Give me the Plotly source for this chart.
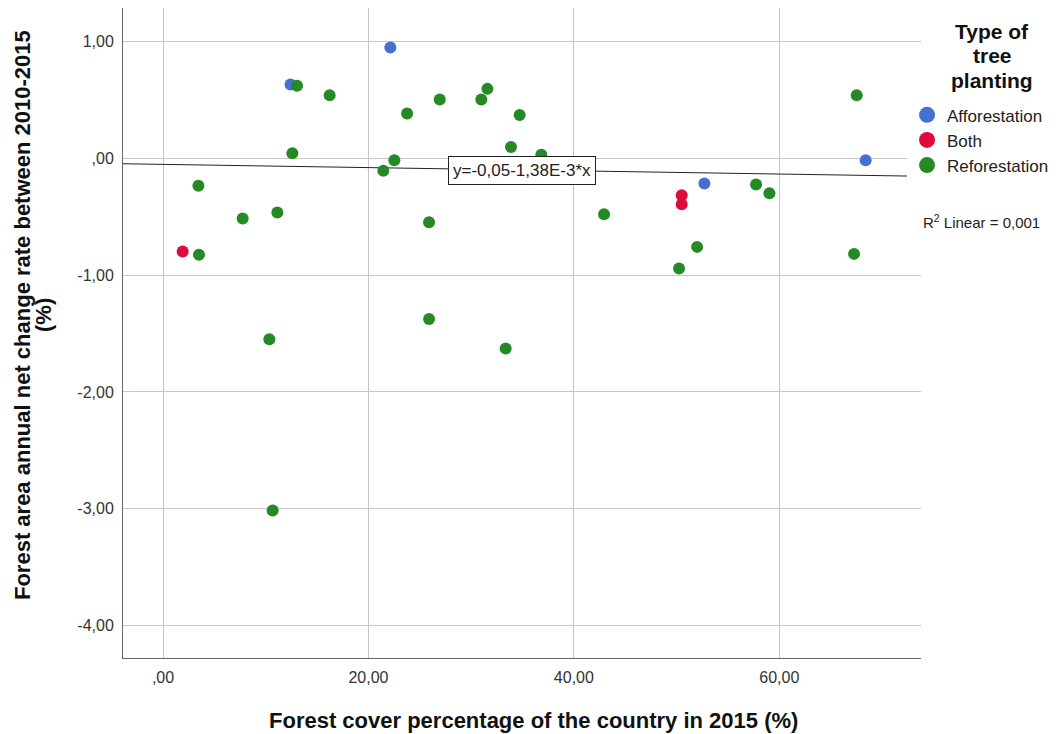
import plotly.graph_objects as go

# ---- data ----
aff_x = [22.13, 12.41, 68.41, 52.71]
aff_y = [0.951, 0.634, -0.014, -0.214]

both_x = [1.91, 50.50, 50.50]
both_y = [-0.797, -0.314, -0.391]

ref_x = [13.05, 16.22, 23.76, 26.94, 30.99, 31.58, 34.72, 33.88, 36.83, 12.59,
         22.52, 21.45, 3.44, 7.75, 11.13, 25.90, 3.50, 25.90, 10.35, 33.36,
         10.67, 67.54, 57.74, 59.04, 42.94, 52.00, 50.24, 67.28]
ref_y = [0.623, 0.543, 0.386, 0.506, 0.506, 0.597, 0.374, 0.098, 0.032, 0.046,
         -0.014, -0.105, -0.234, -0.514, -0.463, -0.545, -0.825, -1.376, -1.548, -1.628,
         -3.016, 0.543, -0.223, -0.297, -0.477, -0.757, -0.942, -0.817]

fit_intercept = -0.05
fit_slope = -1.38e-3

x_range = [-3.9, 73.8]
y_range = [-4.28, 1.29]

x_tick_vals = [0, 20, 40, 60]
x_tick_text = [",00", "20,00", "40,00", "60,00"]
y_tick_vals = [1, 0, -1, -2, -3, -4]
y_tick_text = ["1,00", ",00", "-1,00", "-2,00", "-3,00", "-4,00"]

legend_title_lines = ["Type of", "tree", "planting"]

C_AFF = "#4570d2"
C_BOTH = "#de0a3c"
C_REF = "#258a25"
FONT = "Liberation Sans, Arial, sans-serif"

fig = go.Figure()

# regression line across the axis range
fx = [x_range[0], x_range[1]]
fy = [fit_intercept + fit_slope * v for v in fx]
fig.add_trace(go.Scatter(x=fx, y=fy, mode="lines", line=dict(color="#222222", width=1),
                         showlegend=False, hoverinfo="skip"))

for name, xs, ys, c in [("Afforestation", aff_x, aff_y, C_AFF),
                        ("Both", both_x, both_y, C_BOTH),
                        ("Reforestation", ref_x, ref_y, C_REF)]:
    fig.add_trace(go.Scatter(x=xs, y=ys, mode="markers", name=name,
                             marker=dict(color=c, size=12, line=dict(width=0)),
                             showlegend=False))
    # legend proxy with larger marker
    fig.add_trace(go.Scatter(x=[None], y=[None], mode="markers", name=name,
                             marker=dict(color=c, size=18, line=dict(width=0)),
                             showlegend=True))

fig.add_annotation(x=34.99, y=-0.099, xref="x", yref="y",
                   text="y=-0,05-1,38E-3*x", showarrow=False,
                   font=dict(family=FONT, size=17, color="#222222"),
                   bgcolor="white", bordercolor="#222222", borderwidth=1, borderpad=4)

fig.add_annotation(x=1.0, y=0.671, xref="paper", yref="paper",
                   xanchor="left", yanchor="middle",
                   text="R<sup>2</sup> Linear = 0,001", showarrow=False,
                   font=dict(family=FONT, size=15, color="#222222"))

# legend title, one centered line each
for txt, yy in zip(legend_title_lines, [0.9631, 0.9262, 0.8892]):
    fig.add_annotation(x=1.089, y=yy, xref="paper", yref="paper",
                       xanchor="center", yanchor="middle",
                       text="<b>" + txt + "</b>", showarrow=False,
                       font=dict(family=FONT, size=21, color="#111111"))

# y-axis title as two rotated lines
fig.add_annotation(x=-0.1253, y=0.5277, xref="paper", yref="paper",
                   xanchor="center", yanchor="middle",
                   text="<b>Forest area annual net change rate between 2010-2015</b>",
                   textangle=-90, showarrow=False,
                   font=dict(family=FONT, size=22, color="#111111"))
fig.add_annotation(x=-0.099, y=0.5277, xref="paper", yref="paper",
                   xanchor="center", yanchor="middle",
                   text="<b>(%)</b>", textangle=-90, showarrow=False,
                   font=dict(family=FONT, size=22, color="#111111"))
# x-axis title
fig.add_annotation(x=0.514, y=-0.0954, xref="paper", yref="paper",
                   xanchor="center", yanchor="middle",
                   text="<b>Forest cover percentage of the country in 2015 (%)</b>",
                   showarrow=False, font=dict(family=FONT, size=22, color="#111111"))

fig.update_layout(
    width=1062, height=734,
    margin=dict(l=123, r=141, t=8, b=76),
    paper_bgcolor="white", plot_bgcolor="white",
    font=dict(family=FONT, color="#222222"),
    xaxis=dict(range=x_range, tickvals=x_tick_vals, ticktext=x_tick_text,
               showgrid=True, gridcolor="#c8c8c8", gridwidth=1, zeroline=False,
               showline=True, linecolor="#666666", linewidth=1, ticks="",
               ticklabelstandoff=5,
               tickfont=dict(size=16, color="#333333"), automargin=False),
    yaxis=dict(range=y_range, tickvals=y_tick_vals, ticktext=y_tick_text,
               showgrid=True, gridcolor="#c8c8c8", gridwidth=1, zeroline=False,
               showline=True, linecolor="#666666", linewidth=1, ticks="",
               ticklabelstandoff=5,
               tickfont=dict(size=16, color="#333333"), automargin=False),
    legend=dict(x=0.9825, xanchor="left", y=0.8626, yanchor="top",
                font=dict(size=17, color="#222222"),
                itemsizing="trace", tracegroupgap=0),
)

fig.write_html("out.html", config={"displayModeBar": False},
               post_script="document.body.style.margin='0px';document.body.style.overflow='hidden';")
